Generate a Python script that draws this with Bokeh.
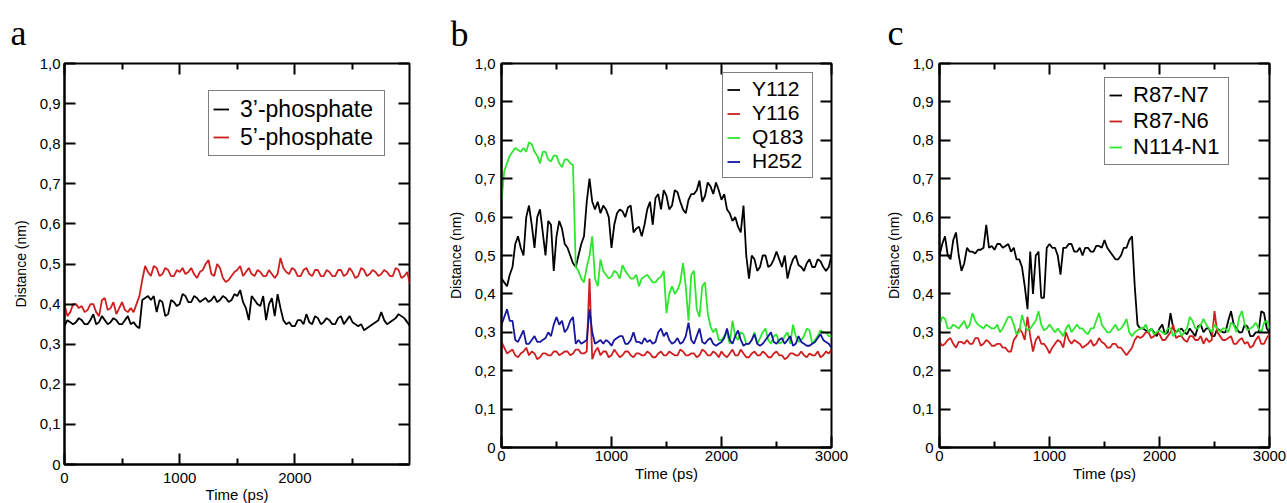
from bokeh.plotting import figure
from bokeh.layouts import row
from bokeh.models import (Range1d, FixedTicker, CustomJSTickFormatter, LinearAxis,
                          Legend, LegendItem, Title)
from bokeh.embed import file_html
from bokeh.resources import INLINE

# ---------------- data (distance in nm, sampled every 25 ps) ----------------
TIME = list(range(0, 3001, 25))  # ps

# panel a
A_NAMES = ["3’-phosphate", "5’-phosphate"]
A_3P = [.345,.36,.355,.35,.355,.365,.36,.35,.35,.36,
        .375,.35,.355,.37,.36,.35,.355,.365,.36,.35,
        .35,.36,.37,.35,.355,.345,.34,.41,.415,.42,
        .41,.42,.38,.41,.405,.37,.375,.41,.405,.395,
        .40,.425,.42,.405,.405,.42,.415,.405,.41,.415,
        .405,.41,.42,.405,.41,.42,.415,.405,.41,.425,
        .42,.435,.405,.39,.36,.42,.41,.40,.395,.42,
        .36,.40,.415,.37,.425,.39,.36,.35,.355,.345,
        .345,.36,.36,.35,.375,.355,.35,.37,.365,.35,
        .355,.365,.36,.35,.35,.365,.37,.35,.36,.37,
        .355,.35,.345,.35,.335,.34,.345,.35,.355,.36,
        .38,.36,.35,.355,.36,.365,.375,.37,.365,.355,
        .345]
A_5P = [.40,.37,.38,.40,.40,.39,.395,.38,.385,.40,
        .40,.38,.37,.41,.415,.385,.39,.405,.375,.39,
        .405,.385,.38,.39,.38,.40,.42,.46,.495,.48,
        .47,.495,.49,.47,.475,.49,.485,.47,.47,.485,
        .48,.49,.475,.48,.49,.475,.465,.48,.485,.50,
        .51,.475,.47,.50,.49,.465,.455,.46,.47,.48,
        .485,.495,.47,.48,.49,.475,.47,.485,.48,.47,
        .47,.485,.475,.465,.475,.515,.49,.48,.475,.49,
        .485,.47,.47,.485,.49,.475,.47,.485,.485,.47,
        .47,.485,.48,.47,.47,.485,.485,.47,.475,.49,
        .48,.465,.47,.49,.485,.47,.475,.485,.48,.47,
        .475,.485,.48,.47,.47,.49,.485,.465,.47,.48,
        .45]

# panel b
B_NAMES = ["Y112", "Y116", "Q183", "H252"]
B_Y112 = [.44,.43,.42,.45,.47,.53,.55,.52,.50,.60,
          .63,.58,.52,.60,.62,.56,.50,.59,.58,.46,
          .55,.59,.57,.53,.52,.50,.48,.47,.50,.53,
          .55,.64,.70,.64,.62,.64,.61,.63,.62,.60,
          .52,.58,.61,.62,.615,.60,.625,.63,.56,.57,
          .575,.55,.58,.62,.64,.58,.65,.66,.62,.67,
          .655,.62,.63,.67,.665,.64,.62,.61,.645,.66,
          .66,.67,.695,.64,.655,.69,.68,.66,.69,.67,
          .645,.66,.62,.61,.59,.60,.575,.56,.63,.50,
          .44,.50,.49,.46,.47,.50,.50,.47,.475,.49,
          .51,.49,.47,.50,.44,.47,.49,.50,.475,.47,
          .46,.48,.49,.47,.47,.49,.485,.47,.46,.47,
          .50]
B_Y116 = [.275,.26,.245,.25,.255,.24,.235,.245,.25,.26,
          .24,.25,.245,.23,.235,.245,.245,.24,.24,.25,
          .25,.24,.245,.25,.25,.24,.245,.255,.255,.245,
          .245,.25,.44,.23,.25,.26,.24,.25,.25,.235,
          .24,.255,.245,.235,.24,.25,.25,.24,.235,.245,
          .245,.24,.24,.25,.245,.235,.235,.245,.25,.24,
          .24,.25,.245,.24,.24,.255,.25,.24,.24,.245,
          .245,.235,.24,.255,.25,.24,.24,.25,.245,.235,
          .25,.24,.235,.245,.255,.24,.24,.255,.245,.235,
          .235,.245,.25,.24,.24,.25,.245,.235,.235,.245,
          .25,.24,.24,.23,.235,.245,.245,.24,.24,.25,
          .24,.235,.245,.24,.24,.25,.235,.24,.25,.245,
          .255]
B_Q183 = [.64,.72,.74,.76,.77,.78,.775,.77,.78,.77,
          .795,.79,.77,.76,.74,.77,.77,.75,.745,.76,
          .76,.74,.73,.75,.75,.74,.735,.47,.46,.44,
          .43,.47,.50,.55,.44,.42,.49,.46,.45,.44,
          .445,.46,.455,.44,.475,.46,.45,.44,.44,.45,
          .42,.44,.445,.45,.44,.43,.43,.44,.445,.46,
          .35,.40,.42,.40,.41,.43,.48,.42,.33,.45,
          .46,.36,.34,.42,.43,.35,.315,.30,.31,.28,
          .28,.29,.30,.27,.33,.29,.28,.30,.295,.27,
          .27,.28,.30,.27,.285,.30,.31,.28,.27,.29,
          .295,.27,.275,.29,.30,.27,.32,.29,.275,.28,
          .29,.31,.305,.27,.28,.29,.305,.30,.30,.29,
          .29]
B_H252 = [.32,.34,.36,.33,.33,.28,.275,.29,.305,.27,
          .27,.28,.29,.275,.275,.28,.285,.30,.29,.32,
          .34,.32,.33,.30,.31,.33,.34,.27,.28,.27,
          .275,.28,.36,.30,.27,.275,.28,.27,.28,.275,
          .265,.28,.285,.29,.29,.27,.27,.28,.30,.275,
          .275,.27,.285,.275,.28,.27,.275,.30,.31,.29,
          .30,.28,.27,.275,.285,.27,.275,.29,.325,.28,
          .27,.29,.31,.275,.27,.28,.285,.27,.265,.27,
          .275,.285,.31,.28,.27,.29,.305,.28,.265,.27,
          .27,.28,.295,.27,.265,.27,.28,.29,.30,.275,
          .27,.28,.285,.27,.28,.29,.265,.27,.29,.275,
          .27,.265,.265,.27,.275,.285,.295,.28,.275,.27,
          .26]

# panel c
C_NAMES = ["R87-N7", "R87-N6", "N114-N1"]
C_R87N7 = [.50,.53,.55,.50,.49,.54,.56,.50,.46,.48,
           .52,.51,.51,.505,.515,.515,.52,.58,.52,.525,
           .515,.53,.53,.52,.525,.53,.51,.52,.49,.49,
           .47,.42,.36,.51,.40,.50,.51,.39,.39,.52,
           .53,.52,.52,.50,.45,.52,.52,.53,.53,.51,
           .51,.52,.50,.52,.52,.51,.51,.525,.525,.52,
           .54,.52,.51,.50,.49,.49,.50,.52,.52,.54,
           .55,.42,.32,.31,.31,.305,.30,.31,.30,.29,
           .31,.32,.295,.30,.35,.31,.30,.305,.31,.30,
           .295,.31,.30,.29,.315,.32,.30,.31,.31,.29,
           .29,.31,.305,.30,.30,.33,.355,.32,.31,.30,
           .30,.32,.315,.29,.29,.30,.30,.355,.35,.31,
           .30]
C_R87N6 = [.275,.265,.27,.28,.285,.27,.26,.275,.275,.27,
           .28,.27,.27,.285,.285,.265,.27,.28,.275,.265,
           .265,.27,.27,.26,.26,.25,.25,.28,.29,.31,
           .30,.28,.34,.29,.25,.28,.29,.27,.27,.26,
           .245,.26,.27,.28,.275,.26,.30,.28,.27,.28,
           .275,.27,.26,.265,.27,.28,.265,.27,.285,.275,
           .27,.26,.26,.27,.27,.26,.26,.25,.24,.25,
           .26,.28,.29,.285,.29,.30,.30,.285,.29,.30,
           .295,.28,.28,.29,.30,.32,.285,.29,.29,.28,
           .275,.29,.29,.28,.28,.29,.27,.285,.275,.28,
           .355,.30,.29,.28,.28,.285,.29,.27,.27,.28,
           .285,.27,.275,.26,.265,.28,.29,.27,.27,.285,
           .295]
C_N114N1 = [.32,.34,.335,.31,.31,.32,.315,.31,.32,.33,
            .31,.32,.35,.33,.32,.315,.31,.32,.315,.31,
            .31,.32,.30,.31,.325,.34,.34,.32,.295,.30,
            .345,.32,.305,.31,.32,.33,.355,.32,.305,.31,
            .32,.31,.30,.31,.30,.29,.31,.32,.30,.31,
            .32,.31,.31,.30,.295,.31,.31,.33,.35,.32,
            .31,.30,.30,.31,.32,.305,.31,.32,.335,.30,
            .29,.30,.305,.31,.31,.32,.30,.31,.295,.30,
            .305,.30,.295,.31,.31,.29,.30,.31,.29,.30,
            .31,.34,.33,.31,.31,.32,.335,.32,.31,.30,
            .32,.31,.30,.31,.31,.30,.325,.32,.30,.34,
            .355,.32,.305,.31,.315,.325,.31,.30,.325,.33,
            .31]

X_TICKS = [0, 1000, 2000, 3000]
X_MINOR = [500, 1500, 2500]
Y_TICKS = [0.0, 0.1, 0.2, 0.3, 0.4, 0.5, 0.6, 0.7, 0.8, 0.9, 1.0]
Y_TICK_LABELS = ["0", "0,1", "0,2", "0,3", "0,4", "0,5", "0,6", "0,7", "0,8", "0,9", "1,0"]

# ---------------- style ----------------
SANS = "Liberation Sans"
SERIF = "Liberation Serif"
BLACK = "#000000"
RED = "#d01e1e"
GREEN = "#2ee62e"
BLUE = "#16169e"


def y_formatter():
    return CustomJSTickFormatter(args=dict(yvals=Y_TICKS, ylabels=Y_TICK_LABELS), code="""
        for (let i = 0; i < yvals.length; i++) {
            if (Math.abs(yvals[i] - tick) < 1e-6) return ylabels[i];
        }
        return '';
    """)


def style_axis(ax):
    ax.axis_line_width = 2
    ax.axis_line_color = BLACK
    ax.major_tick_line_width = 2
    ax.minor_tick_line_width = 2
    ax.major_tick_in = 11
    ax.major_tick_out = 0
    ax.minor_tick_in = 6
    ax.minor_tick_out = 0
    ax.major_label_text_font = SANS
    ax.major_label_text_font_size = "15px"
    ax.major_label_text_color = BLACK
    ax.axis_label_text_font = SANS
    ax.axis_label_text_font_style = "normal"
    ax.axis_label_text_color = BLACK


def make_panel(cfg):
    p = figure(x_range=Range1d(0, cfg["x_end"]), y_range=Range1d(0, 1),
               frame_width=cfg["fw"], frame_height=cfg["fh"],
               min_border_left=cfg["bl"], min_border_right=cfg["br"],
               min_border_top=cfg["bt"], min_border_bottom=cfg["bb"],
               output_backend="svg", toolbar_location=None,
               x_axis_label="Time (ps)", y_axis_label="Distance (nm)")
    p.xgrid.visible = False
    p.ygrid.visible = False
    p.outline_line_color = BLACK
    p.outline_line_width = 2
    p.background_fill_color = "white"
    p.border_fill_color = "white"

    xa = p.xaxis[0]
    ya = p.yaxis[0]
    xa.ticker = FixedTicker(ticks=X_TICKS, minor_ticks=X_MINOR)
    ya.ticker = FixedTicker(ticks=Y_TICKS, minor_ticks=[])
    ya.formatter = y_formatter()
    style_axis(xa)
    style_axis(ya)
    xa.axis_label_text_font_size = "15px"
    ya.axis_label_text_font_size = "14px"
    xa.major_label_standoff = cfg["x_std"]
    xa.axis_label_standoff = cfg["x_lab_std"]
    ya.major_label_standoff = cfg["y_std"]
    ya.axis_label_standoff = 8

    top = LinearAxis(ticker=FixedTicker(ticks=X_TICKS, minor_ticks=X_MINOR))
    right = LinearAxis(ticker=FixedTicker(ticks=Y_TICKS, minor_ticks=[]))
    for ax in (top, right):
        style_axis(ax)
        ax.axis_line_color = None
        ax.major_label_text_font_size = "0px"
        ax.major_label_text_color = None
        ax.major_label_standoff = 0
    p.add_layout(top, "above")
    p.add_layout(right, "right")

    items = []
    for name, vals, col in cfg["series"]:
        r = p.line(TIME[:len(vals)], vals, line_color=col, line_width=1.8)
        items.append(LegendItem(label=name, renderers=[r]))

    lg = Legend(items=items, location=cfg["leg_loc"],
                label_text_font=SANS, label_text_font_size=cfg["leg_fs"],
                label_text_color=BLACK,
                glyph_width=cfg["leg_gw"], glyph_height=cfg["leg_rh"],
                label_height=cfg["leg_rh"], label_width=cfg["leg_lw"],
                label_standoff=cfg["leg_ls"], padding=cfg["leg_pad"],
                spacing=0, margin=0,
                border_line_color=BLACK, border_line_width=1,
                background_fill_color="white", background_fill_alpha=1)
    p.add_layout(lg)

    p.add_layout(Title(text=cfg["letter"], align="left", offset=cfg["let_x"],
                       standoff=cfg["let_std"], text_font=SERIF, text_font_size="36px",
                       text_font_style="normal", text_color=BLACK), "above")
    return p


pa = make_panel(dict(
    x_end=2995, fw=345, fh=401, bl=64, br=21, bt=63, bb=39,
    x_std=8, x_lab_std=0, y_std=4,
    series=[(A_NAMES[0], A_3P, BLACK), (A_NAMES[1], A_5P, RED)],
    leg_loc=(144, 308), leg_fs="23px", leg_gw=16, leg_rh=28, leg_lw=140, leg_ls=11, leg_pad=4,
    letter="a", let_x=-54, let_std=21))

pb = make_panel(dict(
    x_end=3000, fw=330, fh=384, bl=71, br=29, bt=61, bb=58,
    x_std=3, x_lab_std=1, y_std=6,
    series=[(B_NAMES[0], B_Y112, BLACK), (B_NAMES[1], B_Y116, RED),
            (B_NAMES[2], B_Q183, GREEN), (B_NAMES[3], B_H252, BLUE)],
    leg_loc=(221, 269), leg_fs="21px", leg_gw=13, leg_rh=23, leg_lw=56, leg_ls=12, leg_pad=4,
    letter="b", let_x=-51, let_std=20))

pc = make_panel(dict(
    x_end=3000, fw=330, fh=384, bl=79, br=18, bt=62, bb=57,
    x_std=3, x_lab_std=1, y_std=6,
    series=[(C_NAMES[0], C_R87N7, BLACK), (C_NAMES[1], C_R87N6, RED),
            (C_NAMES[2], C_N114N1, GREEN)],
    leg_loc=(165, 282), leg_fs="22px", leg_gw=13, leg_rh=22, leg_lw=91, leg_ls=11, leg_pad=4,
    letter="c", let_x=-52, let_std=21))

layout = row(pa, pb, pc)
open("out.html", "w").write(file_html(layout, INLINE))
